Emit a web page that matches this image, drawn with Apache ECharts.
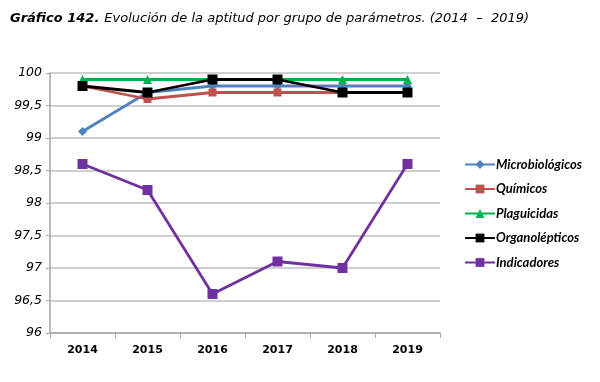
<!DOCTYPE html>
<html><head><meta charset="utf-8">
<script src="https://cdn.jsdelivr.net/npm/echarts@6/dist/echarts.min.js"></script>
<style>html,body{margin:0;padding:0;background:#fff}#c{width:600px;height:382px}</style>
</head><body><div id="c"></div>
<script>
const years = ['2014','2015','2016','2017','2018','2019'];
const microbiologicos = [99.1, 99.7, 99.8, 99.8, 99.8, 99.8];
const quimicos = [99.8, 99.6, 99.7, 99.7, 99.7, 99.7];
const plaguicidas = [99.9, 99.9, 99.9, 99.9, 99.9, 99.9];
const organolepticos = [99.8, 99.7, 99.9, 99.9, 99.7, 99.7];
const indicadores = [98.6, 98.2, 96.6, 97.1, 97.0, 98.6];
const yTicks = [96, 96.5, 97, 97.5, 98, 98.5, 99, 99.5, 100];

const chart = echarts.init(document.getElementById('c'));
function s(name, data, color, symbol, size) {
  return { name, type: 'line', data, symbol, symbolSize: size,
    lineStyle: { color, width: 2.8 }, itemStyle: { color }, showSymbol: true };
}
chart.setOption({
  animation: false,
  title: {
    left: 5, top: 5,
    text: '{b|Gráfico 142.} {i|Evolución de la aptitud por grupo de parámetros. (2014  –  2019)}',
    textStyle: { rich: {
      b: { fontFamily: 'DejaVu Sans', fontWeight: 'bold', fontStyle: 'italic', fontSize: 13, color: '#000' },
      i: { fontFamily: 'DejaVu Sans', fontWeight: 'normal', fontStyle: 'italic', fontSize: 13, color: '#000' }
    } }
  },
  grid: { left: 50, right: 160, top: 73, bottom: 49 },
  xAxis: {
    type: 'category', data: years, boundaryGap: true,
    axisLine: { lineStyle: { color: '#A6A6A6', width: 1.5 } },
    axisTick: { show: true, length: 5, lineStyle: { color: '#A6A6A6' } },
    axisLabel: { color: '#000', fontWeight: 'bold', fontFamily: 'DejaVu Sans', fontSize: 11, margin: 12 }
  },
  yAxis: {
    type: 'value', min: 96, max: 100, interval: 0.5,
    axisLine: { show: true, lineStyle: { color: '#A6A6A6', width: 1.5 } },
    axisTick: { show: true, length: 4, inside: false, lineStyle: { color: '#A6A6A6' } },
    splitLine: { lineStyle: { color: '#BFBFBF', width: 1.5 } },
    axisLabel: { color: '#000', fontStyle: 'italic', fontFamily: 'DejaVu Sans', fontSize: 12.5, margin: 8,
      formatter: v => String(v).replace('.', ',') }
  },
  legend: {
    orient: 'vertical', left: 459, top: 153, itemGap: 11.5, itemWidth: 30, itemHeight: 11,
    textStyle: { fontFamily: 'Lato', fontWeight: 'bold', fontStyle: 'italic', fontSize: 13, color: '#000', padding: [0,0,0,-4] },
    data: ['Microbiológicos','Químicos','Plaguicidas','Organolépticos','Indicadores']
  },
  series: [
    s('Microbiológicos', microbiologicos, '#4F81BD', 'diamond', 9),
    s('Químicos', quimicos, '#C0504D', 'rect', 8),
    s('Plaguicidas', plaguicidas, '#00B050', 'triangle', 9),
    s('Organolépticos', organolepticos, '#000000', 'rect', 10),
    s('Indicadores', indicadores, '#7030A0', 'rect', 10)
  ]
});
</script></body></html>
